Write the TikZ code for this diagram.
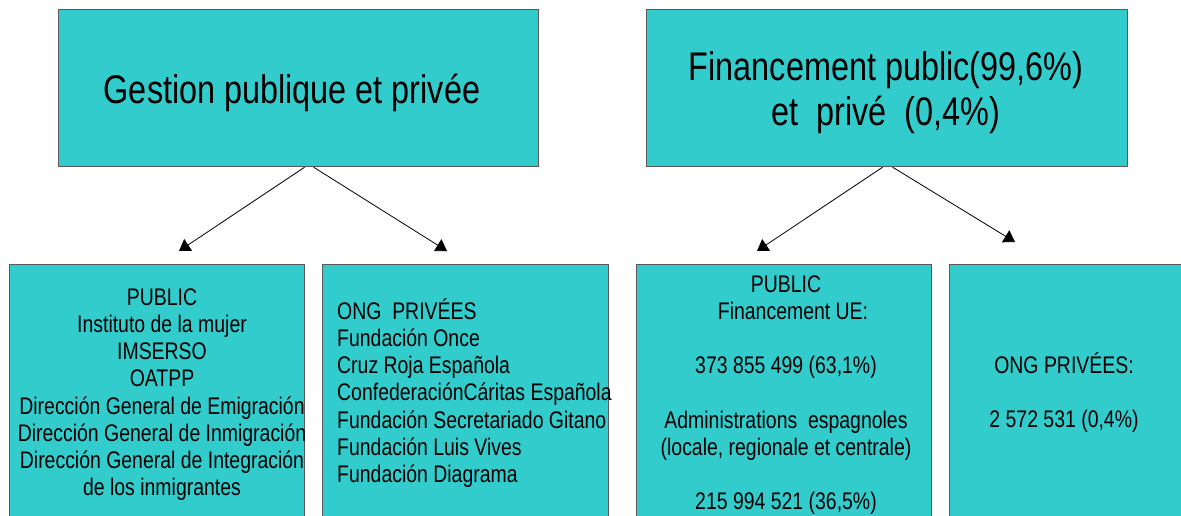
\documentclass[tikz,border=0pt]{standalone}
\usepackage{fontspec}
\setmainfont[FakeStretch=0.81]{Liberation Sans}
\usetikzlibrary{arrows.meta}
\definecolor{turquoise}{HTML}{33CCCC}
\newcommand\serre{\lineskiplimit=-100pt\relax}

\begin{document}
\begin{tikzpicture}[x=1pt, y=-1pt,
    boite/.style={draw=black!65, line width=1.2pt, fill=turquoise, rectangle, inner sep=0pt, anchor=north west},
    petit/.style={inner sep=0pt, anchor=north, font=\fontsize{24}{27.2}\selectfont\serre},
    grand/.style={inner sep=0pt, anchor=north, align=center, font=\fontsize{40}{45.6}\selectfont\serre},
    fleche/.style={-{Triangle[width=14pt,length=11pt]}, line width=0.8pt}]
    \useasboundingbox (0,0) rectangle (1181,516);
    \clip (0,0) rectangle (1181,516);
    % Boîtes du haut
    \node[boite, minimum width=480pt, minimum height=157pt] (gestion) at (58,9) {};
    \node[boite, minimum width=481pt, minimum height=157pt] (finance) at (646,9) {};
    \node[grand] (gestiontxt) at (292,63) {\rule{0pt}{40pt}Gestion publique et privée};
    \node[grand] (financetxt) at (886,40) {\rule{0pt}{40pt}Financement public(99,6\%)\\et\ \ privé\ \ (0,4\%)};
    % Boîtes du bas
    \node[boite, minimum width=295pt, minimum height=270pt] (public) at (9,264) {};
    \node[boite, minimum width=286pt, minimum height=270pt] (ong) at (322,264) {};
    \node[boite, minimum width=295pt, minimum height=270pt] (publicfin) at (636,264) {};
    \node[boite, minimum width=245pt, minimum height=270pt] (ongfin) at (949,264) {};
    \node[petit, align=center] (publictxt) at (162,281) {\rule{0pt}{24pt}PUBLIC\\Instituto de la mujer\\IMSERSO\\OATPP\\Dirección General de Emigración\\Dirección General de Inmigración\\Dirección General de Integración\\de los inmigrantes};
    \node[petit, align=left, anchor=north west] (ongtxt) at (337,295) {\rule{0pt}{24pt}ONG\ \ PRIVÉES\\Fundación Once\\Cruz Roja Española\\ConfederaciónCáritas Española\\Fundación Secretariado Gitano\\Fundación Luis Vives\\Fundación Diagrama};
    \node[petit, align=center] (publicfintxt) at (786,268) {\rule{0pt}{24pt}PUBLIC\\\hspace*{14pt}Financement UE:\\[27.2pt]373 855 499 (63,1\%)\\[27.2pt]Administrations\ \ espagnoles\\(locale, regionale et centrale)\\[27.2pt]215 994 521 (36,5\%)};
    \node[petit, align=center] (ongfintxt) at (1064,349) {\rule{0pt}{24pt}ONG PRIVÉES:\\[27.2pt]2 572 531 (0,4\%)};
    % Flèches
    \coordinate (p1) at (179,251);
    \coordinate (p2) at (447,251);
    \coordinate (p3) at (757,251);
    \coordinate (p4) at (1015,242);
    \draw[fleche] ([xshift=6pt]gestion.south) -- (p1);
    \draw[fleche] ([xshift=15pt]gestion.south) -- (p2);
    \draw[fleche] ([xshift=-4.5pt]finance.south) -- (p3);
    \draw[fleche] ([xshift=5.5pt]finance.south) -- (p4);
\end{tikzpicture}
\end{document}
